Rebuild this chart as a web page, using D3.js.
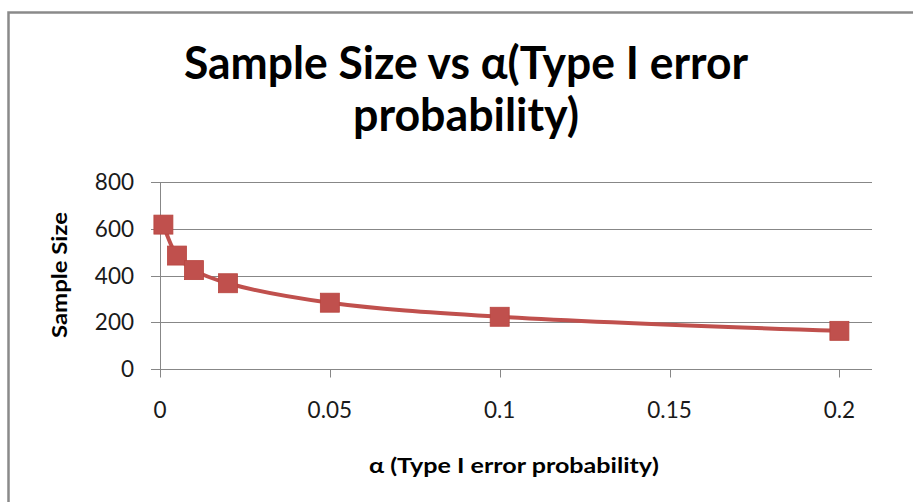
<!DOCTYPE html>
<html>
<head>
<meta charset="utf-8">
<script src="https://cdn.jsdelivr.net/npm/d3@7/dist/d3.min.js"></script>
<style>
  html, body { margin: 0; padding: 0; background: #fff; }
  svg { display: block; }
</style>
</head>
<body>
<svg id="chart" width="913" height="502"></svg>
<script>
// Data
const alphaValues = [0.001, 0.005, 0.01, 0.02, 0.05, 0.1, 0.2];
const sampleSizes = [617, 485, 423, 367, 284, 224, 164];
const xTicks = [0, 0.05, 0.1, 0.15, 0.2];
const xTickLabels = ["0", "0.05", "0.1", "0.15", "0.2"];
const yTicks = [0, 200, 400, 600, 800];
const titleLines = ["Sample Size vs \u03b1(Type I error", "probability)"];
const xTitle = "\u03b1 (Type I error probability)";
const yTitle = "Sample Size";

const svg = d3.select("#chart");
const FONT = "Lato, 'Open Sans', sans-serif";
const RED = "#C0504D";
const GRID = "#878787";

// chart border
svg.append("rect")
  .attr("x", 8.5).attr("y", 12.5)
  .attr("width", 920).attr("height", 510)
  .attr("fill", "#fff")
  .attr("stroke", "#8a8a8a")
  .attr("stroke-width", 2.5);

const x = d3.scaleLinear().domain([0, 0.2096]).range([160, 872]);
const y = d3.scaleLinear().domain([0, 800]).range([369.3, 181.7]);

// horizontal gridlines (with outward tick)
svg.append("g").selectAll("line").data(yTicks).join("line")
  .attr("x1", 151).attr("x2", 872)
  .attr("y1", d => Math.round(y(d)) + 0.5)
  .attr("y2", d => Math.round(y(d)) + 0.5)
  .attr("stroke", GRID).attr("stroke-width", 1);

// y axis line
svg.append("line")
  .attr("x1", 160.5).attr("x2", 160.5)
  .attr("y1", Math.round(y(800)) + 0.5).attr("y2", Math.round(y(0)) + 8.5)
  .attr("stroke", GRID).attr("stroke-width", 1);

// x tick marks
svg.append("g").selectAll("line").data(xTicks.slice(1)).join("line")
  .attr("x1", d => Math.round(x(d)) + 0.5)
  .attr("x2", d => Math.round(x(d)) + 0.5)
  .attr("y1", Math.round(y(0)) + 0.5).attr("y2", Math.round(y(0)) + 8.5)
  .attr("stroke", GRID).attr("stroke-width", 1);

// y tick labels
svg.append("g").selectAll("text").data(yTicks).join("text")
  .attr("x", 134).attr("y", d => y(d) + 8)
  .attr("text-anchor", "end")
  .attr("font-family", FONT).attr("font-size", 22.5)
  .attr("fill", "#1a1a1a")
  .text(d => d);

// x tick labels
svg.append("g").selectAll("text").data(xTicks).join("text")
  .attr("x", d => x(d)).attr("y", 418)
  .attr("text-anchor", "middle")
  .attr("font-family", FONT).attr("font-size", 22.5)
  .attr("fill", "#1a1a1a")
  .text((d, i) => xTickLabels[i]);

// data
const pts = alphaValues.map((a, i) => [a, sampleSizes[i]]);
const line = d3.line()
  .x(d => x(d[0])).y(d => y(d[1]))
  .curve(d3.curveCatmullRom.alpha(0.5));

svg.append("path")
  .attr("d", line(pts))
  .attr("fill", "none")
  .attr("stroke", RED)
  .attr("stroke-width", 4)
  .attr("stroke-linejoin", "round");

const S = 19;
svg.append("g").selectAll("rect").data(pts).join("rect")
  .attr("x", d => x(d[0]) - S / 2)
  .attr("y", d => y(d[1]) - S / 2)
  .attr("width", S).attr("height", S)
  .attr("fill", RED)
  .attr("stroke", "#b8453f").attr("stroke-width", 0.8);

// titles
const title = svg.append("g")
  .attr("font-family", FONT).attr("font-weight", "bold")
  .attr("font-size", 45).attr("fill", "#000")
  .attr("text-anchor", "middle");
const titleBase = [79, 131];
const titleWidth = [564, 226];
titleLines.forEach((t, i) => {
  title.append("text")
    .attr("x", 466).attr("y", titleBase[i])
    .attr("textLength", titleWidth[i])
    .attr("lengthAdjust", "spacingAndGlyphs")
    .text(t);
});

svg.append("text")
  .attr("x", 514).attr("y", 473)
  .attr("text-anchor", "middle")
  .attr("font-family", FONT).attr("font-weight", "bold")
  .attr("font-size", 21).attr("fill", "#000")
  .attr("textLength", 290).attr("lengthAdjust", "spacingAndGlyphs")
  .text(xTitle);

svg.append("text")
  .attr("transform", "translate(67,275) rotate(-90)")
  .attr("text-anchor", "middle")
  .attr("font-family", FONT).attr("font-weight", "bold")
  .attr("font-size", 20.5).attr("fill", "#000")
  .attr("textLength", 126).attr("lengthAdjust", "spacingAndGlyphs")
  .text(yTitle);
</script>
</body>
</html>
